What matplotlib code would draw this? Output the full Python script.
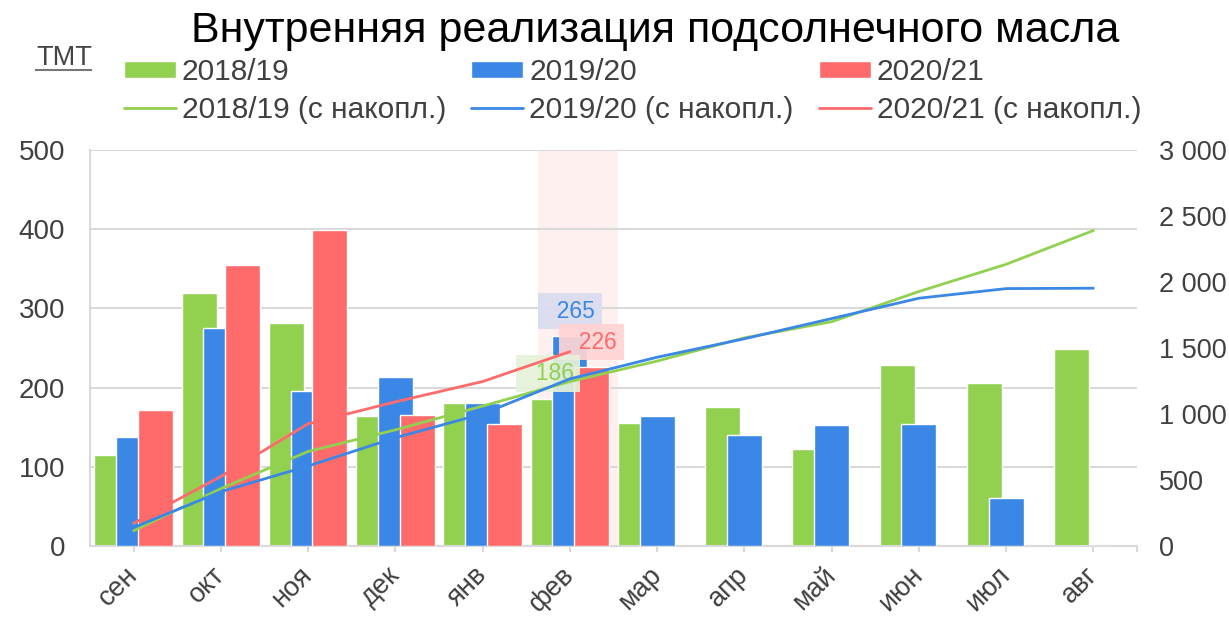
import matplotlib
matplotlib.use("Agg")
import matplotlib.pyplot as plt
import numpy as np

months = ["сен", "окт", "ноя", "дек", "янв", "фев",
          "мар", "апр", "май", "июн", "июл", "авг"]

# monthly sales, thousand t
sales_1819 = [115, 320, 281, 164, 180, 186, 155, 176, 122, 229, 206, 249]
sales_1920 = [137, 275, 196, 214, 181, 265, 164, 140, 153, 154, 60, 0]
sales_2021 = [172, 355, 399, 166, 154, 226]

# cumulative, thousand t (right axis)
cum_1819 = [116, 435, 716, 880, 1060, 1246, 1401, 1577, 1699, 1928, 2134, 2390]
cum_1920 = [140, 411, 606, 820, 1001, 1266, 1430, 1570, 1723, 1877, 1950, 1953]
cum_2021 = [172, 527, 926, 1092, 1246, 1472]

labels_bar = ["2018/19", "2019/20", "2020/21"]
labels_line = ["2018/19 (с накопл.)", "2019/20 (с накопл.)", "2020/21 (с накопл.)"]
highlight = 5  # фев

GREEN = "#92d050"
BLUE = "#3b87e6"
RED = "#ff6b6b"
TXT = "#404040"

plt.rcParams["font.family"] = ["Liberation Sans", "DejaVu Sans"]

fig = plt.figure(figsize=(12.29, 6.17), dpi=100)
ax = fig.add_axes([90 / 1229, 71 / 617, 1047 / 1229, 396 / 617])
ax2 = ax.twinx()

x = np.arange(len(months))
w = 0.4
offs = [-0.25, 0.0, 0.25]
cols = [GREEN, BLUE, RED]
series = [sales_1819, sales_1920, sales_2021]
cums = [cum_1819, cum_1920, cum_2021]

ax.axvspan(highlight - 0.37, highlight + 0.55, color="#fff0f0", zorder=0.5, lw=0)

bars = []
for k, (vals, c, o) in enumerate(zip(series, cols, offs)):
    xs = x[:len(vals)] + o
    b = ax.bar(xs, vals, width=w, color=c, edgecolor="white", linewidth=1.0,
               zorder=2 + k)
    bars.append(b)

ax.set_xlim(-0.5, 11.5)
ax.set_ylim(0, 500)
ax.set_yticks(range(0, 501, 100))
ax.grid(axis="y", color="#d9d9d9", lw=1.5, zorder=0)
ax.set_axisbelow(True)

ax2.set_ylim(0, 3000)
ax2.set_yticks(range(0, 3001, 500))
ax2.set_yticklabels([f"{v:,}".replace(",", " ") for v in range(0, 3001, 500)])

lines = []
for k, (vals, c) in enumerate(zip(cums, cols)):
    ln, = ax2.plot(x[:len(vals)], vals, color=c, lw=2, zorder=6 + k,
                   solid_capstyle="round")
    lines.append(ln)

# highlighted month labels
lab_style = [("186", GREEN, "#e6f2d8", sales_1819[highlight], offs[0]),
             ("265", BLUE, "#d9ddf1", sales_1920[highlight], offs[1]),
             ("226", RED, "#ffd4d4", sales_2021[highlight], offs[2])]
for txt, fc, bg, v, o in [lab_style[1], lab_style[2], lab_style[0]]:
    ax.annotate("  " + txt, xy=(highlight + o, v), xytext=(0, 18),
                textcoords="offset points", ha="center", va="center",
                fontsize=16.5, color=fc, zorder=20,
                bbox=dict(boxstyle="square,pad=0.3", fc=bg, ec="none", alpha=0.92))

ax.spines["top"].set_visible(False)
ax.spines["right"].set_visible(False)
ax.spines["left"].set_color("#d9d9d9")
ax.spines["left"].set_linewidth(1.5)
ax.spines["bottom"].set_color("#d9d9d9")
ax.spines["bottom"].set_linewidth(1.5)
for s in ("top", "right", "left", "bottom"):
    ax2.spines[s].set_visible(False)

ax.set_xticks(x)
ax.set_xticks([11.5], minor=True)
ax.set_xticklabels(months, rotation=45, ha="right", va="center",
                   rotation_mode="anchor", fontsize=19.5, color=TXT)
ax.tick_params(axis="x", which="both", length=4.5, color="#d9d9d9", width=1.5,
               pad=13.5)
ax.tick_params(axis="y", length=0, pad=18, labelsize=20, labelcolor=TXT)
ax2.tick_params(axis="y", length=0, pad=16, labelsize=19.5, labelcolor=TXT)

fig.suptitle("Внутренняя реализация подсолнечного масла", x=0.533, y=0.982,
             fontsize=31, va="top")
fig.text(36 / 1229, 1 - 58 / 617, "ТМТ", fontsize=19.5, color="#444444",
         va="center", ha="left")
fig.add_artist(plt.Line2D([36 / 1229, 91 / 1229], [1 - 70 / 617, 1 - 70 / 617],
                          color="#777777", lw=1.5))

handles = []
labs = []
for k in range(3):
    handles += [bars[k], lines[k]]
    labs += [labels_bar[k], labels_line[k]]
leg = fig.legend(handles, labs, ncol=3, loc="upper left",
                 bbox_to_anchor=(124 / 1229, 1 - 58 / 617), frameon=False,
                 fontsize=21.5, handlelength=1.74, handleheight=0.54,
                 handletextpad=0.2, columnspacing=0.84, labelspacing=0.33,
                 borderpad=0, borderaxespad=0)
for t in leg.get_texts():
    t.set_color(TXT)

fig.savefig("out.png", dpi=100)
